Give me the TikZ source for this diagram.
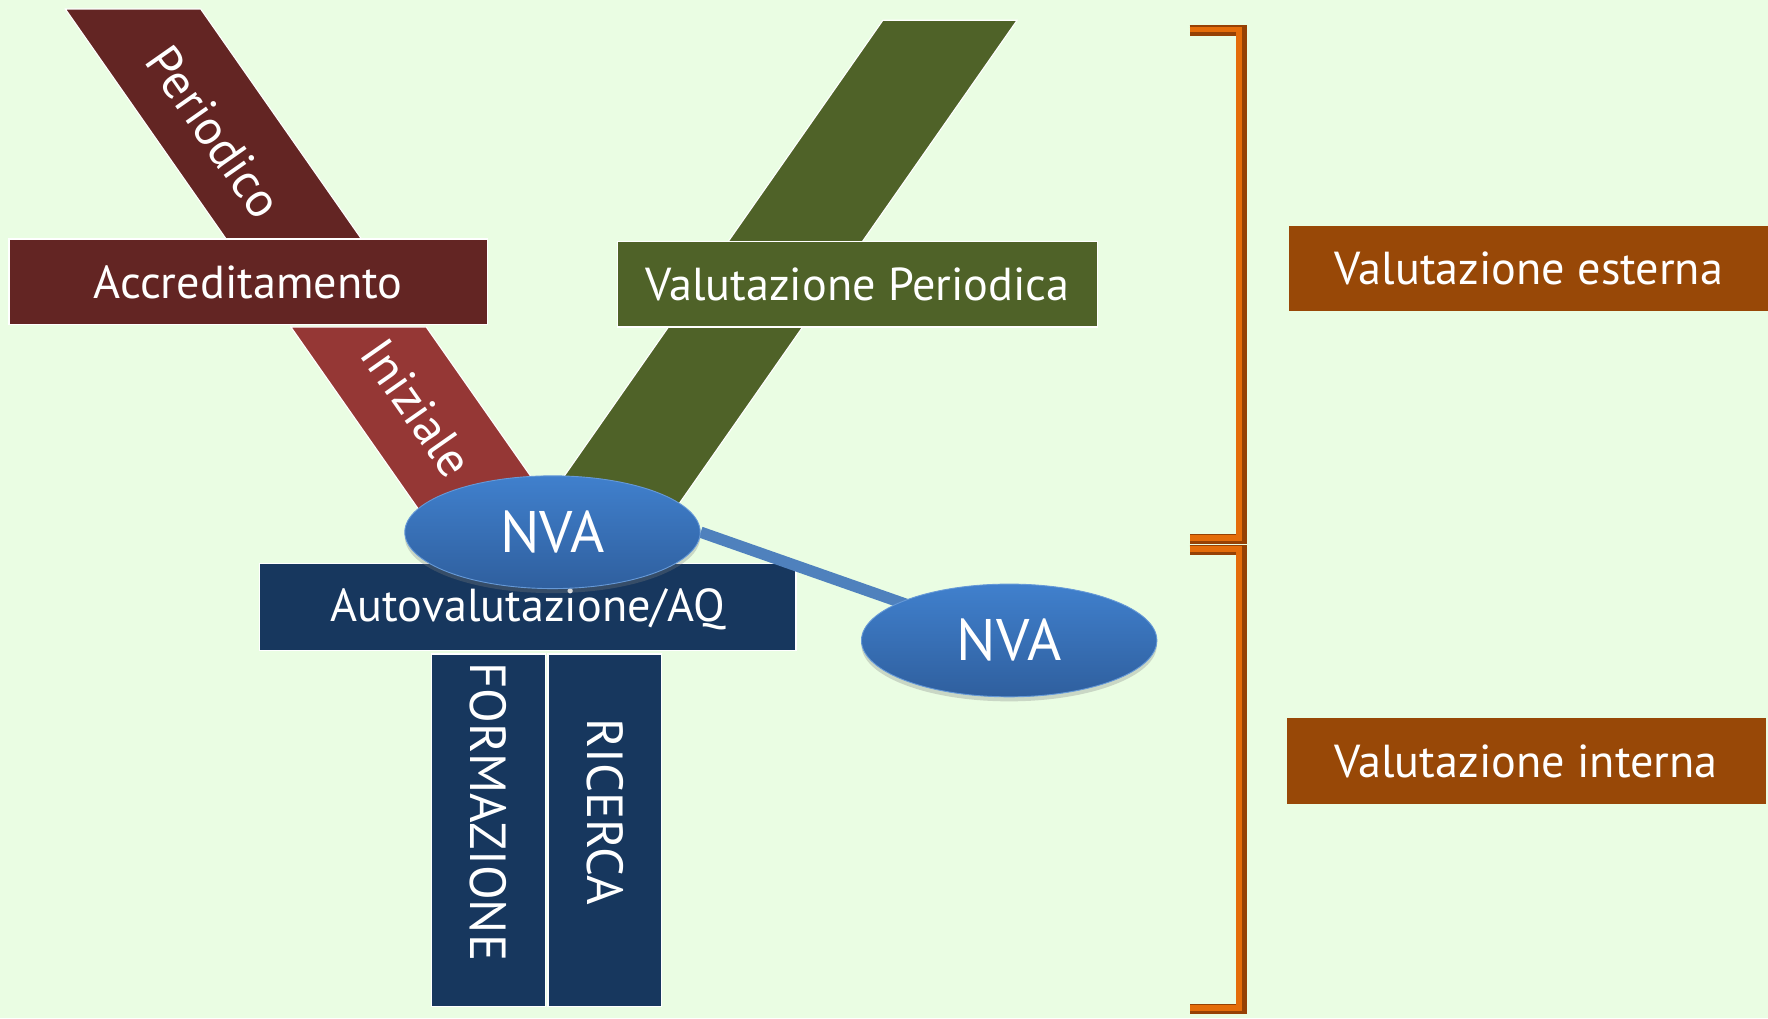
\documentclass[tikz,border=0pt]{standalone}
\usepackage{fontspec}
\setmainfont{PT Sans}
\usetikzlibrary{shadows,shapes.geometric}
\definecolor{bgc}{RGB}{234,253,227}
\definecolor{maroon}{RGB}{99,37,35}
\definecolor{redl}{RGB}{149,55,53}
\definecolor{olive}{RGB}{79,98,40}
\definecolor{navy}{RGB}{23,55,94}
\definecolor{brownor}{RGB}{152,72,7}
\definecolor{orng}{RGB}{228,108,10}
\definecolor{orngd}{RGB}{150,65,5}
\definecolor{bluet}{RGB}{64,128,205}
\definecolor{blueb}{RGB}{47,95,158}
\definecolor{linkc}{RGB}{79,129,189}
\pgfdeclarelayer{back}\pgfdeclarelayer{mid}
\pgfsetlayers{back,mid,main}
\tikzset{
  band/.style={draw=white, line width=1pt},
  box/.style={rectangle, draw=white, line width=1pt, inner sep=0pt, text=white, font=\fontsize{41}{43}\selectfont},
  lbl/.style={text=white, inner sep=0pt, font=\fontsize{41}{43}\selectfont},
  rlbl/.style={text=white, inner sep=0pt, font=\fontsize{44}{46}\selectfont},
  vlbl/.style={text=white, inner sep=0pt, font=\fontsize{45}{47}\selectfont},
  nva/.style={ellipse, minimum width=262pt, minimum height=100pt, inner sep=0pt, text=white,
     shading=axis, top color=bluet, bottom color=blueb, draw=bluet!80!white, line width=0.8pt,
     drop shadow={shadow xshift=0pt, shadow yshift=-4pt, opacity=0.3},
     font=\fontsize{52}{54}\selectfont},
  brk/.style={line width=9pt, draw=orngd, line cap=butt, line join=miter},
  brkhi/.style={line width=5pt, draw=orng, line cap=butt, line join=miter},
  sidebox/.style={rectangle, fill=brownor, inner sep=0pt, text=white, minimum width=425pt, minimum height=76pt, font=\fontsize{41}{43}\selectfont}
}
\begin{document}
\begin{tikzpicture}[x=1pt,y=-1pt]
\useasboundingbox (0,0) rectangle (1568,903);

\begin{pgfonlayer}{back}
\fill[bgc] (0,0) rectangle (1568,903);
% bands
\fill[band, fill=olive] (783,18) -- (902,18) -- (593,460) -- (474,460) -- cycle;
\fill[band, fill=maroon] (58,8) -- (178,8) -- (322,214) -- (202,214) -- cycle;
\fill[band, fill=redl] (258,290) -- (378,290) -- (504,470) -- (384,470) -- cycle;
% rectangles
\node[box, fill=maroon, minimum width=424pt, minimum height=76pt] (acc) at (220,250) {Accreditamento};
\node[box, fill=olive, minimum width=425pt, minimum height=76pt] (vp) at (760.5,252) {Valutazione Periodica};
\node[box, fill=navy, minimum width=476pt, minimum height=77pt] (auto) at (468,538.5) {};
\node[box, fill=navy, minimum width=101pt, minimum height=313pt] (form) at (433,736.5) {};
\node[box, fill=navy, minimum width=101pt, minimum height=313pt] (ric) at (536.5,736.5) {};
\end{pgfonlayer}

\node[rlbl, rotate=-55] (per) at (190,117) {Periodico};
\node[rlbl, rotate=-55] (ini) at (370,362) {Iniziale};
\node[lbl] (autot) at (468,540) {Autovalutazione/AQ};
\node[vlbl, rotate=-90] (formt) at (433,720) {FORMAZIONE};
\node[vlbl, rotate=-90] (rict) at (536.5,720) {RICERCA};

% ellipses
\node[nva] (nva1) at (490,472) {NVA};
\node[nva] (nva2) at (895,568) {NVA};
\begin{pgfonlayer}{mid}
\draw[linkc, line width=10pt] (nva1.east) -- (nva2.center);
\end{pgfonlayer}

% brackets
\draw[brk] (1055,27) -- (1101,27) -- (1101,478) -- (1055,478);
\draw[brkhi] (1055,26) -- (1099,26) -- (1099,477) -- (1055,477);
\draw[brk] (1055,488) -- (1101,488) -- (1101,895) -- (1055,895);
\draw[brkhi] (1055,487) -- (1099,487) -- (1099,894) -- (1055,894);

\node[sidebox] (ext) at (1356,238) {Valutazione esterna};
\node[sidebox] (int) at (1353.5,675) {Valutazione interna};
\end{tikzpicture}
\end{document}
